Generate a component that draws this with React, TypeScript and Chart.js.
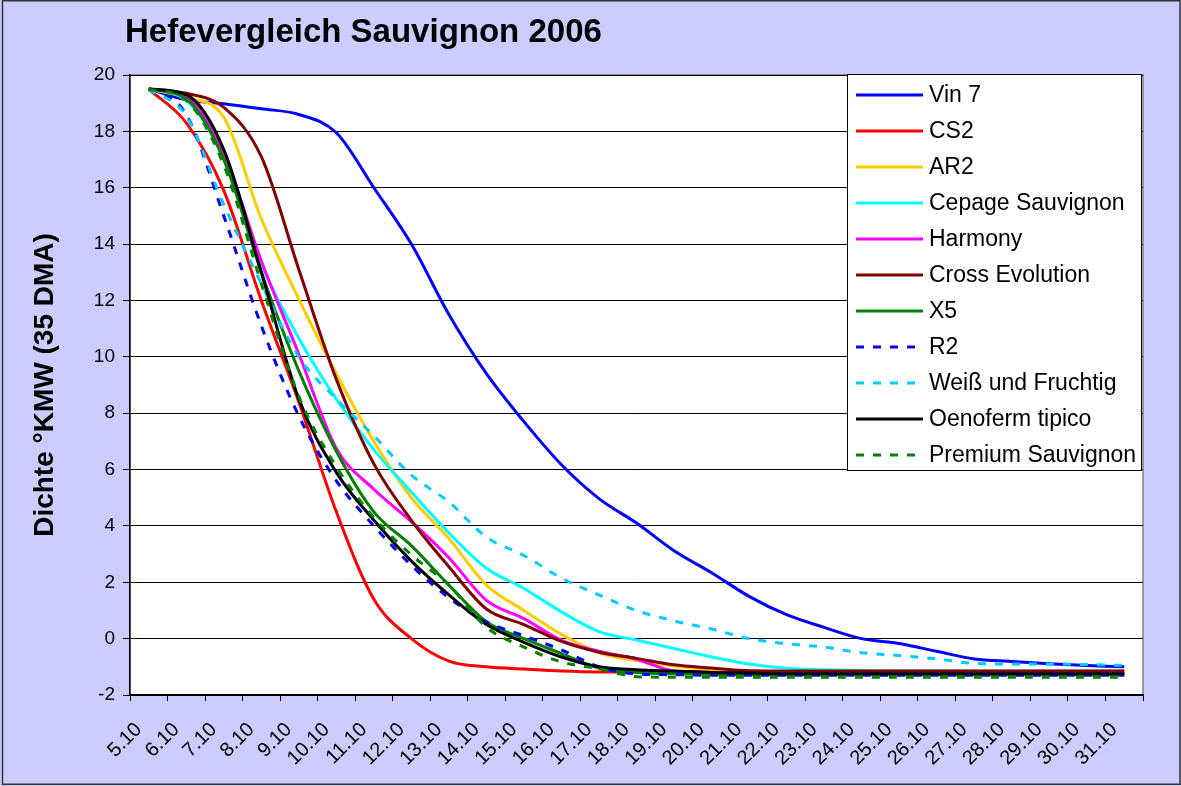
import React, { useEffect, useRef } from 'react';
import { Chart, registerables } from 'chart.js';

Chart.register(...registerables);

const dayLabels = [
  '5.10', '6.10', '7.10', '8.10', '9.10', '10.10', '11.10', '12.10', '13.10',
  '14.10', '15.10', '16.10', '17.10', '18.10', '19.10', '20.10', '21.10', '22.10',
  '23.10', '24.10', '25.10', '26.10', '27.10', '28.10', '29.10', '30.10', '31.10',
];

const vin7 = [19.5, 19.12, 18.98, 18.8, 18.6, 17.95, 16.0, 14.0, 11.5, 9.4, 7.7, 6.17, 4.97, 4.1, 3.12, 2.34, 1.5, 0.85, 0.4, 0.0, -0.17, -0.45, -0.72, -0.81, -0.89, -0.95, -1.0];
const cs2 = [19.5, 18.3, 15.9, 12.0, 8.4, 4.5, 1.4, 0.0, -0.8, -1.0, -1.08, -1.15, -1.18, -1.18, -1.18, -1.18, -1.18, -1.18, -1.18, -1.18, -1.18, -1.18, -1.18, -1.18, -1.18, -1.18, -1.18];
const ar2 = [19.5, 19.2, 18.5, 14.9, 12.05, 9.4, 7.0, 5.0, 3.55, 1.9, 1.0, 0.15, -0.5, -0.78, -0.97, -1.1, -1.15, -1.18, -1.2, -1.2, -1.2, -1.2, -1.2, -1.2, -1.2, -1.2, -1.2];
const cepage = [19.5, 19.1, 17.05, 13.3, 10.66, 8.5, 6.7, 5.2, 3.75, 2.5, 1.78, 0.95, 0.25, -0.05, -0.35, -0.65, -0.9, -1.05, -1.1, -1.13, -1.15, -1.15, -1.15, -1.15, -1.15, -1.15, -1.15];
const harmony = [19.5, 19.25, 17.2, 13.4, 10.1, 6.75, 5.3, 4.15, 2.87, 1.36, 0.71, -0.06, -0.45, -0.73, -1.15, -1.2, -1.2, -1.2, -1.2, -1.2, -1.2, -1.2, -1.2, -1.2, -1.2, -1.2, -1.2];
const crossEvolution = [19.5, 19.35, 18.85, 17.1, 13.1, 9.2, 6.2, 4.2, 2.55, 1.05, 0.5, -0.1, -0.48, -0.7, -0.93, -1.04, -1.14, -1.15, -1.15, -1.15, -1.15, -1.15, -1.15, -1.15, -1.15, -1.15, -1.15];
const x5 = [19.5, 19.15, 17.0, 13.0, 9.5, 6.65, 4.5, 3.3, 1.9, 0.6, 0.0, -0.53, -1.05, -1.2, -1.25, -1.27, -1.27, -1.27, -1.27, -1.27, -1.27, -1.27, -1.27, -1.27, -1.27, -1.27, -1.27];
const r2 = [19.5, 18.6, 15.0, 11.1, 7.9, 5.6, 4.0, 2.6, 1.45, 0.6, 0.1, -0.4, -1.0, -1.25, -1.28, -1.3, -1.3, -1.3, -1.3, -1.3, -1.3, -1.3, -1.3, -1.3, -1.3, -1.3, -1.3];
const weissFruchtig = [19.5, 18.55, 15.4, 12.6, 10.0, 8.5, 7.2, 5.8, 4.85, 3.6, 2.95, 2.15, 1.55, 1.0, 0.63, 0.34, 0.0, -0.18, -0.3, -0.5, -0.6, -0.72, -0.88, -0.9, -0.9, -0.92, -0.95];
const oenoferm = [19.5, 19.3, 17.35, 13.0, 8.5, 5.9, 4.2, 2.75, 1.55, 0.5, -0.13, -0.65, -1.0, -1.1, -1.15, -1.2, -1.22, -1.25, -1.25, -1.25, -1.25, -1.25, -1.25, -1.25, -1.25, -1.25, -1.25];
const premium = [19.5, 19.1, 16.8, 12.6, 8.6, 6.1, 4.3, 2.97, 1.9, 0.4, -0.3, -0.83, -1.07, -1.35, -1.37, -1.37, -1.37, -1.37, -1.37, -1.37, -1.37, -1.37, -1.37, -1.37, -1.37, -1.37, -1.37];

const seriesNames = ['Vin 7', 'CS2', 'AR2', 'Cepage Sauvignon', 'Harmony', 'Cross Evolution', 'X5', 'R2', 'Weiß und Fruchtig', 'Oenoferm tipico', 'Premium Sauvignon'];
const seriesValues = [vin7, cs2, ar2, cepage, harmony, crossEvolution, x5, r2, weissFruchtig, oenoferm, premium];
const seriesColors = ['#0000FF', '#FF0000', '#FFCC00', '#00FFFF', '#FF00FF', '#800000', '#008000', '#0000FF', '#00CCFF', '#000000', '#008000'];
const seriesDashed = [false, false, false, false, false, false, false, true, true, false, true];

const chartTitle = 'Hefevergleich Sauvignon 2006';
const yTitle = 'Dichte °KMW (35 DMA)';

const FONT = '"Liberation Sans", Arial, Helvetica, sans-serif';

const framePlugin = {
  id: 'frame',
  beforeDraw(chart: any) {
    const { ctx, width, height, chartArea } = chart;
    ctx.save();
    ctx.fillStyle = '#CCCCFF';
    ctx.fillRect(0, 0, width, height);
    ctx.strokeStyle = '#333333';
    ctx.lineWidth = 1.5;
    ctx.strokeRect(2.5, 0.75, width - 3.5, height - 2.5);
    const w = chartArea.right - chartArea.left;
    const h = chartArea.bottom - chartArea.top;
    ctx.fillStyle = '#FFFFFF';
    ctx.fillRect(chartArea.left, chartArea.top, w, h);
    ctx.strokeStyle = '#808080';
    ctx.lineWidth = 1.5;
    ctx.strokeRect(chartArea.left, chartArea.top, w, h);
    ctx.restore();
  },
  afterDraw(chart: any) {
    const { ctx, chartArea } = chart;
    ctx.save();
    // title
    ctx.fillStyle = '#000';
    ctx.font = `bold 33px ${FONT}`;
    ctx.textBaseline = 'alphabetic';
    ctx.textAlign = 'left';
    ctx.fillText(chartTitle, chartArea.left - 5, 42);
    // legend
    const lw = 294;
    const lh = 396;
    const left = chartArea.right - 296;
    const top = chartArea.top - 1;
    ctx.fillStyle = '#FFFFFF';
    ctx.fillRect(left, top, lw, lh);
    ctx.strokeStyle = '#000';
    ctx.lineWidth = 1;
    ctx.strokeRect(left + 0.5, top + 0.5, lw, lh);
    ctx.font = `23px ${FONT}`;
    ctx.textBaseline = 'middle';
    chart.data.datasets.forEach((ds: any, i: number) => {
      const y = top + 21 + 36 * i;
      ctx.strokeStyle = ds.borderColor;
      ctx.lineWidth = 3;
      ctx.lineCap = 'butt';
      ctx.setLineDash(ds.borderDash || []);
      ctx.beginPath();
      ctx.moveTo(left + 9, y);
      ctx.lineTo(left + 76, y);
      ctx.stroke();
      ctx.setLineDash([]);
      ctx.fillStyle = '#000';
      ctx.fillText(ds.label, left + 82, y + 1);
    });
    ctx.restore();
  },
};

export default function App() {
  const canvasRef = useRef<HTMLCanvasElement | null>(null);

  useEffect(() => {
    document.body.style.margin = '0';
    const canvas = canvasRef.current;
    if (!canvas) return;

    const datasets = seriesNames.map((name, i) => ({
      label: name,
      data: seriesValues[i].map((v, k) => ({ x: k, y: v })),
      borderColor: seriesColors[i],
      backgroundColor: seriesColors[i],
      borderWidth: 3,
      borderDash: seriesDashed[i] ? [8, 9] : [],
      borderCapStyle: 'butt',
      borderJoinStyle: 'round',
      pointRadius: 0,
      fill: false,
      cubicInterpolationMode: 'monotone',
      order: seriesNames.length - i,
    }));

    const chart = new Chart(canvas, {
      type: 'line',
      data: { datasets } as any,
      plugins: [framePlugin],
      options: {
        responsive: false,
        animation: false,
        devicePixelRatio: 1,
        events: [],
        layout: { padding: { top: 75, right: 38, left: 0, bottom: 0 } },
        plugins: {
          legend: { display: false },
          tooltip: { enabled: false },
          title: { display: false },
        },
        scales: {
          x: {
            type: 'linear',
            min: -0.5,
            max: 26.5,
            afterBuildTicks: (scale: any) => {
              const t: any[] = [];
              for (let k = 0; k <= 54; k++) t.push({ value: -0.5 + k * 0.5 });
              scale.ticks = t;
            },
            afterFit: (scale: any) => {
              scale.height = 91;
            },
            ticks: {
              autoSkip: false,
              minRotation: 45,
              maxRotation: 45,
              labelOffset: -10,
              padding: 17,
              color: '#000',
              font: { family: FONT, size: 20 },
              callback: (value: any) => (Number.isInteger(value) ? dayLabels[value] : ''),
            },
            grid: {
              drawOnChartArea: false,
              drawTicks: true,
              tickLength: 6,
              tickWidth: 1,
              tickColor: (c: any) => (c.tick && !Number.isInteger(c.tick.value) ? '#000' : 'rgba(0,0,0,0)'),
            },
            border: { display: true, color: '#000', width: 1.5 },
          },
          y: {
            min: -2,
            max: 20,
            afterFit: (scale: any) => {
              scale.width = 130;
            },
            ticks: {
              stepSize: 2,
              color: '#000',
              padding: 8,
              font: { family: FONT, size: 19 },
            },
            grid: {
              color: '#000',
              lineWidth: 1,
              drawTicks: true,
              tickLength: 7,
              tickColor: '#000',
            },
            border: { display: true, color: '#000', width: 1.5 },
            title: {
              display: true,
              text: yTitle,
              color: '#000',
              font: { family: FONT, size: 28, weight: 'bold' },
              padding: { top: 28, bottom: 0 },
            },
          },
        },
      } as any,
    });

    return () => {
      chart.destroy();
    };
  }, []);

  return (
    <div style={{ width: 1181, height: 786 }}>
      <canvas ref={canvasRef} width={1181} height={786} style={{ display: 'block' }} />
    </div>
  );
}
